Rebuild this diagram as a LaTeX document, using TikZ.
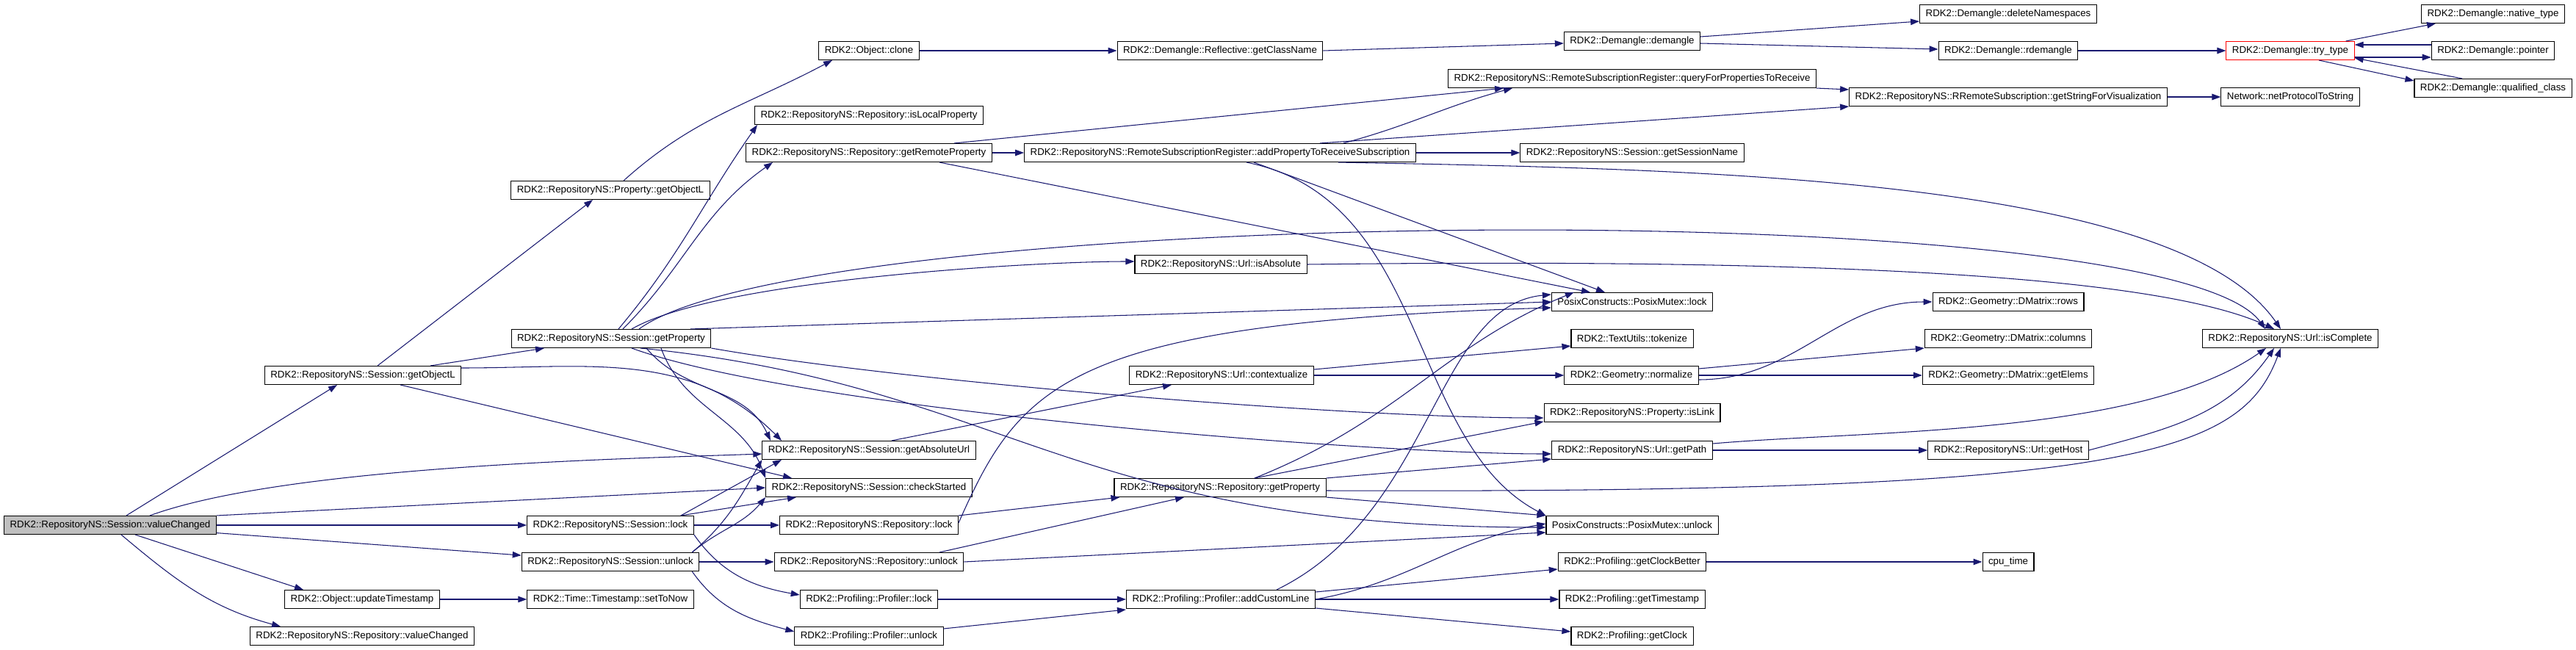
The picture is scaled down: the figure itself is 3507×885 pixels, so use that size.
\documentclass[tikz,border=0pt]{standalone}
\usepackage{fontspec}
\newfontfamily\dxfont{Liberation Sans}
\usetikzlibrary{arrows.meta}
\definecolor{edge-blue}{HTML}{191970}
\definecolor{node-gray}{HTML}{BFBFBF}

\begin{document}
\begin{tikzpicture}[
    x=0.02cm, y=0.02cm,
    fn/.style={draw=black, line width=0.6pt, fill=white, minimum height=0.5cm, inner xsep=0.16cm, inner ysep=0pt, font=\dxfont\fontsize{7.57}{9}\selectfont},
    cur/.style={fn, fill=node-gray},
    hit/.style={fn, draw=red},
    call/.style={-{Triangle[length=0.24cm,width=0.17cm]}, line width=0.6pt, edge-blue}
]
    \fill[white] (0,0) rectangle (3507,-885);
    \useasboundingbox (0,0) rectangle (3507,-885);

    \node[cur] (vc) at (150,-715) {RDK2::RepositoryNS::Session::valueChanged};
    \node[fn] (propObjL) at (831,-259) {RDK2::RepositoryNS::Property::getObjectL};
    \node[fn] (sessObjL) at (494,-511) {RDK2::RepositoryNS::Session::getObjectL};
    \node[fn] (updTs) at (493,-816) {RDK2::Object::updateTimestamp};
    \node[fn] (repoVC) at (493,-866) {RDK2::RepositoryNS::Repository::valueChanged};
    \node[fn] (sessGetProp) at (832,-461) {RDK2::RepositoryNS::Session::getProperty};
    \node[fn] (sessLock) at (831,-715) {RDK2::RepositoryNS::Session::lock};
    \node[fn] (sessUnlock) at (831,-765) {RDK2::RepositoryNS::Session::unlock};
    \node[fn] (setToNow) at (831,-816) {RDK2::Time::Timestamp::setToNow};
    \node[fn] (clone) at (1183,-69) {RDK2::Object::clone};
    \node[fn] (isLocal) at (1183,-157) {RDK2::RepositoryNS::Repository::isLocalProperty};
    \node[fn] (getRemote) at (1183,-208) {RDK2::RepositoryNS::Repository::getRemoteProperty};
    \node[fn] (absUrl) at (1183,-613) {RDK2::RepositoryNS::Session::getAbsoluteUrl};
    \node[fn] (checkStarted) at (1183,-664) {RDK2::RepositoryNS::Session::checkStarted};
    \node[fn] (repoLock) at (1183,-715) {RDK2::RepositoryNS::Repository::lock};
    \node[fn] (repoUnlock) at (1183,-765) {RDK2::RepositoryNS::Repository::unlock};
    \node[fn] (profLock) at (1183,-816) {RDK2::Profiling::Profiler::lock};
    \node[fn] (profUnlock) at (1183,-866) {RDK2::Profiling::Profiler::unlock};
    \node[fn] (className) at (1661,-69) {RDK2::Demangle::Reflective::getClassName};
    \node[fn] (addProp) at (1661,-208) {RDK2::RepositoryNS::RemoteSubscriptionRegister::addPropertyToReceiveSubscription};
    \node[fn] (isAbsolute) at (1662,-360) {RDK2::RepositoryNS::Url::isAbsolute};
    \node[fn] (contextualize) at (1663,-511) {RDK2::RepositoryNS::Url::contextualize};
    \node[fn] (repoGetProp) at (1661,-664) {RDK2::RepositoryNS::Repository::getProperty};
    \node[fn] (addCustom) at (1662,-816) {RDK2::Profiling::Profiler::addCustomLine};
    \node[fn] (demangle) at (2222,-56) {RDK2::Demangle::demangle};
    \node[fn] (query) at (2222,-107) {RDK2::RepositoryNS::RemoteSubscriptionRegister::queryForPropertiesToReceive};
    \node[fn] (sessName) at (2222,-208) {RDK2::RepositoryNS::Session::getSessionName};
    \node[fn] (mutexLock) at (2222,-411) {PosixConstructs::PosixMutex::lock};
    \node[fn] (tokenize) at (2222,-461) {RDK2::TextUtils::tokenize};
    \node[fn] (normalize) at (2221,-511) {RDK2::Geometry::normalize};
    \node[fn] (isLink) at (2222,-562) {RDK2::RepositoryNS::Property::isLink};
    \node[fn] (getPath) at (2222,-613) {RDK2::RepositoryNS::Url::getPath};
    \node[fn] (mutexUnlock) at (2222,-715) {PosixConstructs::PosixMutex::unlock};
    \node[fn] (clockBetter) at (2222,-765) {RDK2::Profiling::getClockBetter};
    \node[fn] (getTimestamp) at (2222,-816) {RDK2::Profiling::getTimestamp};
    \node[fn] (getClock) at (2222,-866) {RDK2::Profiling::getClock};
    \node[fn] (delNS) at (2734,-19) {RDK2::Demangle::deleteNamespaces};
    \node[fn] (rdemangle) at (2734,-69) {RDK2::Demangle::rdemangle};
    \node[fn] (strVis) at (2734,-132) {RDK2::RepositoryNS::RRemoteSubscription::getStringForVisualization};
    \node[fn] (rows) at (2734,-411) {RDK2::Geometry::DMatrix::rows};
    \node[fn] (columns) at (2734,-461) {RDK2::Geometry::DMatrix::columns};
    \node[fn] (getElems) at (2734,-511) {RDK2::Geometry::DMatrix::getElems};
    \node[fn] (getHost) at (2734,-613) {RDK2::RepositoryNS::Url::getHost};
    \node[fn] (cpuTime) at (2734,-765) {cpu\_time};
    \node[hit] (tryType) at (3118,-69) {RDK2::Demangle::try\_type};
    \node[fn] (netProto) at (3118,-132) {Network::netProtocolToString};
    \node[fn] (isComplete) at (3118,-461) {RDK2::RepositoryNS::Url::isComplete};
    \node[fn] (nativeType) at (3394,-19) {RDK2::Demangle::native\_type};
    \node[fn] (pointer) at (3394,-69) {RDK2::Demangle::pointer};
    \node[fn] (qualClass) at (3394,-120) {RDK2::Demangle::qualified\_class};

    \draw[call] ([xshift=0.44cm]vc.north) -- ([xshift=-0.7cm]sessObjL.south);
    \draw[call] ([xshift=1.08cm]vc.north) to[out=20,in=182,looseness=0.6] ([yshift=-0.1cm]absUrl.west);
    \draw[call] (vc.north east) -- (checkStarted.west);
    \draw[call] (vc) -- (sessLock);
    \draw[call] (vc) -- (sessUnlock);
    \draw[call] ([xshift=0.68cm]vc.south) -- ([xshift=-1.6cm]updTs.north);
    \draw[call] ([xshift=0.3cm]vc.south) to[out=-40,in=165] ([xshift=-2.22cm]repoVC.north);

    \draw[call] ([xshift=0.4cm]sessObjL.north) -- ([xshift=-0.48cm]propObjL.south);
    \draw[call] ([xshift=1.84cm]sessObjL.north) -- ([xshift=-1.82cm]sessGetProp.south);
    \draw[call] ([yshift=0.2cm]sessObjL.east) to[out=0,in=135] ([xshift=-2.38cm]absUrl.north);
    \draw[call] ([xshift=1.02cm]sessObjL.south) -- ([xshift=-2.1cm]checkStarted.north);

    \draw[call] ([xshift=0.2cm]sessGetProp.north) to[out=50,in=-125] ([xshift=0.08cm]isLocal.south west);
    \draw[call] ([xshift=0.32cm]sessGetProp.north) to[out=45,in=-145] ([xshift=-2.62cm]getRemote.south);
    \draw[call] ([xshift=0.56cm]sessGetProp.north) to[out=30,in=180,looseness=0.5] ([yshift=0.08cm]isAbsolute.west);
    \draw[call] ([xshift=0.76cm]sessGetProp.north) .. controls +(230,168) and +(-134,188) .. ([xshift=-0.68cm]isComplete.north);
    \draw[call] ([xshift=2.16cm]sessGetProp.north) -- (mutexLock.west);
    \draw[call] ([xshift=0.96cm]sessGetProp.south) to[out=-50,in=115] ([xshift=-2.68cm]absUrl.north);
    \draw[call] ([xshift=1.36cm]sessGetProp.south) to[out=-70,in=110] (checkStarted.north west);
    \draw[call] (sessGetProp.south east) to[out=-10,in=180,looseness=0.6] ([yshift=-0.14cm]isLink.west);
    \draw[call] ([xshift=0.56cm]sessGetProp.south) to[out=-20,in=180,looseness=0.5] ([yshift=-0.1cm]getPath.west);
    \draw[call] ([xshift=0.8cm]sessGetProp.south) .. controls +(500,-50) and +(-652,0) .. ([yshift=-0.06cm]mutexUnlock.west);

    \draw[call] ([xshift=-0.36cm]sessLock.north east) -- ([xshift=-2.38cm]absUrl.south);
    \draw[call] ([xshift=-0.36cm]sessLock.north east) -- ([xshift=-1.98cm]checkStarted.south);
    \draw[call] (sessLock) -- (repoLock);
    \draw[call] (sessLock.south east) to[out=-55,in=170] ([yshift=0.12cm]profLock.west);

    \draw[call] ([xshift=-0.2cm]sessUnlock.north east) to[out=40,in=-120] (absUrl.south west);
    \draw[call] ([xshift=-0.2cm]sessUnlock.north east) to[out=40,in=-130] (checkStarted.south west);
    \draw[call] (sessUnlock) -- (repoUnlock);
    \draw[call] ([xshift=-0.2cm]sessUnlock.south east) to[out=-55,in=165] ([yshift=0.12cm]profUnlock.west);

    \draw[call] (updTs) -- (setToNow);
    \draw[call] ([xshift=0.36cm]propObjL.north) to[out=42,in=-152] ([xshift=-1cm]clone.south);

    \draw[call] (clone) -- (className);
    \draw[call] (className.east) -- ([yshift=-0.06cm]demangle.west);
    \draw[call] ([yshift=0.12cm]demangle.east) -- ([yshift=-0.2cm]delNS.west);
    \draw[call] ([yshift=-0.06cm]demangle.east) -- ([yshift=0.04cm]rdemangle.west);
    \draw[call] (rdemangle) -- (tryType);
    \draw[call] ([xshift=-0.24cm]tryType.north east) -- ([xshift=0.4cm]nativeType.south west);
    \draw[call] ([yshift=0.16cm]pointer.west) -- ([yshift=0.16cm]tryType.east);
    \draw[call] ([yshift=-0.18cm]tryType.east) -- ([yshift=-0.18cm]pointer.west);
    \draw[call] ([xshift=0.78cm]tryType.south) -- ([yshift=0.2cm]qualClass.west);
    \draw[call] ([xshift=-0.84cm]qualClass.north) -- ([yshift=-0.2cm]tryType.east);

    \draw[call] (getRemote) -- (addProp);
    \draw[call] ([xshift=2.32cm]getRemote.north) -- ([xshift=-3.5cm]query.south);
    \draw[call] ([xshift=1.92cm]getRemote.south) -- ([xshift=-1.14cm]mutexLock.north);

    \draw[call] ([xshift=3.36cm]addProp.north) to[out=15,in=-165] ([xshift=-3.26cm]query.south);
    \draw[call] ([xshift=2.72cm]addProp.north) -- (strVis.south west);
    \draw[call] (addProp) -- (sessName);
    \draw[call] ([xshift=3.22cm]addProp.south) .. controls +(478,-9) and +(-144,208) .. ([xshift=-0.26cm]isComplete.north);
    \draw[call] ([xshift=0.92cm]addProp.south) -- ([xshift=-0.74cm]mutexLock.north);
    \draw[call] ([xshift=0.72cm]addProp.south) .. controls +(250,-50) and +(-190,100) .. (mutexUnlock.north west);

    \draw[call] (isAbsolute.east) .. controls +(819,10) and +(-136,63) .. ([xshift=-0.44cm]isComplete.north);
    \draw[call] ([xshift=0.62cm]absUrl.north) -- ([xshift=-1.36cm]contextualize.south);
    \draw[call] ([yshift=0.16cm]contextualize.east) -- ([yshift=0.06cm]tokenize.south west);
    \draw[call] (contextualize) -- (normalize);
    \draw[call] ([yshift=-0.12cm]normalize.east) to[out=0,in=180] (rows.west);
    \draw[call] ([yshift=0.18cm]normalize.east) -- (columns.south west);
    \draw[call] (normalize) -- (getElems);

    \draw[call] (repoLock.north east) -- ([xshift=0.16cm]repoGetProp.south west);
    \draw[call] ([yshift=0.06cm]repoLock.east) .. controls +(85,192) and +(-658,-21) .. ([yshift=-0.16cm]mutexLock.west);
    \draw[call] ([xshift=1.92cm]repoUnlock.north) -- ([xshift=-0.98cm]repoGetProp.south);
    \draw[call] (repoUnlock.east) -- ([yshift=-0.2cm]mutexUnlock.west);
    \draw[call] ([xshift=0.94cm]repoGetProp.north) -- ([yshift=-0.24cm]isLink.west);
    \draw[call] (repoGetProp.north east) -- ([yshift=-0.24cm]getPath.west);
    \draw[call] ([yshift=-0.08cm]repoGetProp.east) .. controls +(1095,-4) and +(-55,-146) .. ([xshift=-0.26cm]isComplete.south);
    \draw[call] ([xshift=0.94cm]repoGetProp.north) .. controls +(200,80) and +(-179,-73) .. ([xshift=0.62cm]mutexLock.north west);
    \draw[call] (repoGetProp.south east) -- (mutexUnlock.north west);

    \draw[call] ([xshift=1.52cm]addCustom.north) .. controls +(212,103) and +(-158,-15) .. ([yshift=0.2cm]mutexLock.west);
    \draw[call] (addCustom.east) to[out=10,in=190] ([yshift=0.04cm]mutexUnlock.west);
    \draw[call] ([yshift=0.2cm]addCustom.east) -- ([yshift=-0.2cm]clockBetter.west);
    \draw[call] (addCustom) -- (getTimestamp);
    \draw[call] ([yshift=-0.24cm]addCustom.east) -- ([yshift=0.12cm]getClock.west);
    \draw[call] (profLock) -- (addCustom);
    \draw[call] ([yshift=0.2cm]profUnlock.east) -- ([yshift=-0.28cm]addCustom.west);

    \draw[call] (clockBetter) -- (cpuTime);
    \draw[call] (query.south east) -- ([yshift=0.2cm]strVis.west);
    \draw[call] (strVis) -- (netProto);
    \draw[call] (getPath) -- (getHost);
    \draw[call] ([yshift=0.18cm]getPath.east) to[out=5,in=-145,looseness=0.7] ([xshift=-0.66cm]isComplete.south);
    \draw[call] (getHost.east) to[out=15,in=-125] ([xshift=-0.44cm]isComplete.south);
\end{tikzpicture}
\end{document}
